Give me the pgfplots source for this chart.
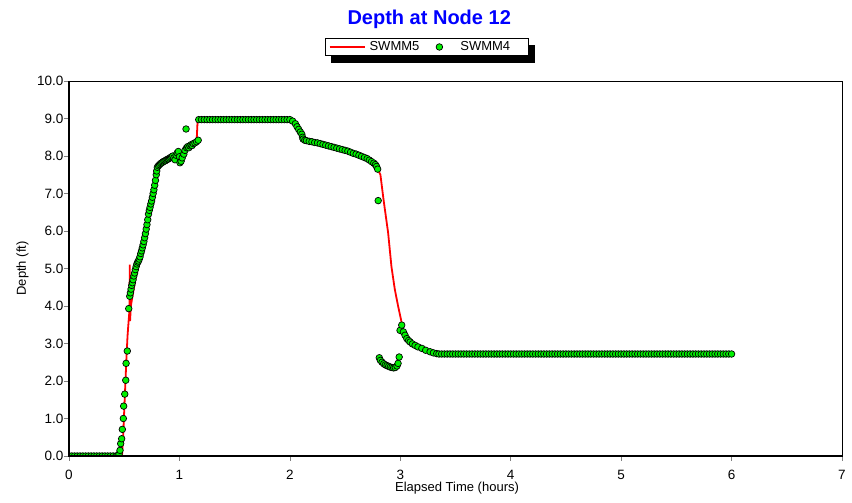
\documentclass[border=0pt]{standalone}
\usepackage{pgfplots}
\pgfplotsset{compat=1.18}
\usepackage{fontspec}
\setmainfont{Liberation Sans}
\pgfdeclarelayer{background}
\pgfsetlayers{background,main}
\definecolor{mkgreen}{RGB}{0,240,0}
\begin{document}
\begin{tikzpicture}
\path[use as bounding box] (-69pt,-47pt) rectangle (783pt,456pt);
\begin{axis}[
  name=ax,
  at={(0pt,0pt)}, anchor=south west,
  scale only axis,
  width=773pt, height=375pt,
  xmin=0, xmax=7, ymin=0, ymax=10,
  xtick={0,1,2,3,4,5,6,7},
  ytick={0,1,2,3,4,5,6,7,8,9,10},
  tick pos=left,
  tick align=outside,
  major tick length=5pt,
  tick style={gray, line width=0.6pt},
  axis line style={black, line width=0.9pt},
  /pgf/number format/assume math mode=true,
  yticklabel style={/pgf/number format/fixed, /pgf/number format/fixed zerofill, /pgf/number format/precision=1, xshift=3pt},
  tick label style={font=\fontsize{13.5}{15}\selectfont},
  xticklabel style={yshift=-6pt},
  xlabel={Elapsed Time (hours)},
  ylabel={Depth (ft)},
  label style={font=\fontsize{13}{15}\selectfont},
  xlabel style={at={(axis description cs:0.502,-0.096)}, anchor=base},
  ylabel style={at={(axis description cs:-0.060,0.5)}, anchor=center},
  every axis title shift=0pt,
  title={\textbf{Depth at Node 12}},
  title style={at={(axis description cs:0.466,1.151)}, anchor=base, yshift=0pt, font=\fontsize{20}{22}\selectfont, text=blue},
  legend columns=2,
  legend style={at={(axis description cs:0.463,1.0907)}, anchor=center,
    name=leg,
    draw=black, line width=0.8pt, fill=white,
    font=\fontsize{13}{15}\selectfont, inner sep=1.5pt,
    /tikz/every even column/.append style={column sep=8pt}},
  clip marker paths=true,
]
\addplot[red, line width=1.8pt, mark=none,
  legend image code/.code={\path[draw=none] (-3pt,0pt) -- (38pt,0pt); \draw[red, line width=1.8pt] (0pt,0pt) -- (35pt,0pt);}]
coordinates {
(0,0) (0.48,0) (0.49,0.5) (0.50,1.2) (0.51,1.9) (0.52,2.6) (0.53,3.2) (0.54,3.6)
(0.548,3.9) (0.550,5.1) (0.553,3.6) (0.56,4.0) (0.58,4.35) (0.60,4.7) (0.62,4.95)
(0.65,5.35) (0.68,5.7) (0.70,6.0) (0.72,6.3) (0.75,6.8) (0.78,7.25) (0.80,7.5)
(0.82,7.7) (0.85,7.78) (0.90,7.88) (0.95,7.98) (1.00,8.05) (1.05,8.15) (1.10,8.30)
(1.157,8.47) (1.165,8.97) (2.0,8.97) (2.02,8.93) (2.05,8.85) (2.08,8.72) (2.10,8.62)
(2.12,8.47) (2.15,8.42) (2.2,8.38) (2.3,8.31) (2.4,8.23) (2.5,8.15) (2.6,8.06)
(2.65,8.00) (2.7,7.92) (2.75,7.83) (2.78,7.75) (2.80,7.62) (2.82,7.5) (2.85,6.8)
(2.89,5.95) (2.92,5.05) (2.95,4.45) (2.98,4.0) (3.013,3.55) (3.03,3.30) (3.06,3.13)
(3.09,3.04) (3.13,2.95) (3.2,2.86) (3.27,2.78) (3.33,2.73) (3.4,2.72) (6.0,2.72)
};
\addlegendentry{SWMM5}
\addplot[only marks, mark=*, mark size=3.3pt,
  mark options={fill=mkgreen, draw=black, line width=0.7pt},
  legend image code/.code={\path[draw=none] (0pt,0pt) -- (29pt,0pt); \path[draw=none] plot[mark=*, mark size=3.3pt, mark options={fill=mkgreen, draw=black, line width=0.7pt}] coordinates {(10pt,0pt)};}]
coordinates {
(0,0) (0.025,0) (0.05,0) (0.075,0) (0.1,0) (0.125,0) (0.15,0) (0.175,0) (0.2,0)
(0.225,0) (0.25,0) (0.275,0) (0.3,0) (0.325,0) (0.35,0) (0.375,0) (0.4,0) (0.425,0)
(0.44,0) (0.453,0.05) (0.462,0.15) (0.468,0.33) (0.477,0.46) (0.483,0.71) (0.492,1.0)
(0.495,1.33) (0.505,1.65) (0.514,2.02) (0.517,2.47) (0.528,2.80) (0.541,3.93)
(0.550,4.26) (0.556,4.35) (0.562,4.45) (0.568,4.55) (0.574,4.62) (0.58,4.70)
(0.587,4.80) (0.594,4.88) (0.601,4.97) (0.608,5.05) (0.615,5.12) (0.622,5.17)
(0.629,5.20) (0.636,5.25) (0.643,5.31) (0.65,5.40) (0.657,5.47) (0.664,5.55)
(0.671,5.63) (0.678,5.72) (0.685,5.82) (0.692,5.93) (0.699,6.05) (0.706,6.17)
(0.713,6.30) (0.72,6.45) (0.727,6.55) (0.734,6.63) (0.741,6.72) (0.748,6.80)
(0.755,6.90) (0.762,7.00) (0.769,7.10) (0.776,7.22) (0.783,7.35) (0.79,7.50)
(0.794,7.60) (0.80,7.70) (0.81,7.74) (0.82,7.77) (0.83,7.80) (0.84,7.82) (0.85,7.84)
(0.86,7.86) (0.87,7.87) (0.88,7.89) (0.89,7.91) (0.90,7.92) (0.91,7.94) (0.92,7.96)
(0.93,7.98) (0.94,8.0) (0.95,7.95) (0.96,7.90) (0.97,8.02) (0.98,8.08) (0.99,8.12)
(1.0,7.98) (1.005,7.82) (1.015,7.86) (1.025,7.95) (1.04,8.05) (1.05,8.15) (1.06,8.72)
(1.065,8.22) (1.075,8.25) (1.085,8.22) (1.095,8.27) (1.105,8.30) (1.115,8.28)
(1.125,8.33) (1.14,8.35) (1.155,8.38) (1.17,8.42)
(1.175,8.97) (1.2,8.97) (1.225,8.97) (1.25,8.97) (1.275,8.97) (1.3,8.97) (1.325,8.97)
(1.35,8.97) (1.375,8.97) (1.4,8.97) (1.425,8.97) (1.45,8.97) (1.475,8.97) (1.5,8.97)
(1.525,8.97) (1.55,8.97) (1.575,8.97) (1.6,8.97) (1.625,8.97) (1.65,8.97) (1.675,8.97)
(1.7,8.97) (1.725,8.97) (1.75,8.97) (1.775,8.97) (1.8,8.97) (1.825,8.97) (1.85,8.97)
(1.875,8.97) (1.9,8.97) (1.925,8.97) (1.95,8.97) (1.975,8.97) (2.0,8.97)
(2.025,8.93) (2.05,8.86) (2.065,8.78) (2.08,8.71) (2.095,8.64) (2.108,8.58)
(2.115,8.50) (2.12,8.45) (2.135,8.42) (2.15,8.41) (2.175,8.39) (2.2,8.38)
(2.225,8.36) (2.25,8.35) (2.275,8.33) (2.3,8.31) (2.325,8.29) (2.35,8.27)
(2.375,8.25) (2.4,8.23) (2.425,8.21) (2.45,8.19) (2.475,8.17) (2.5,8.15)
(2.525,8.13) (2.55,8.10) (2.575,8.07) (2.6,8.05) (2.625,8.02) (2.65,7.99)
(2.675,7.96) (2.7,7.93) (2.72,7.89) (2.74,7.85) (2.76,7.81) (2.775,7.77)
(2.785,7.72) (2.795,7.65) (2.80,6.81)
(2.81,2.62) (2.82,2.55) (2.835,2.50) (2.85,2.46) (2.865,2.43) (2.88,2.41)
(2.895,2.39) (2.91,2.37) (2.925,2.36) (2.94,2.35) (2.955,2.36) (2.97,2.40)
(2.98,2.47) (2.99,2.64)
(2.998,3.35) (3.013,3.49) (3.028,3.31) (3.043,3.22) (3.059,3.13) (3.075,3.08)
(3.089,3.04) (3.11,2.99) (3.134,2.95) (3.16,2.91) (3.195,2.87) (3.23,2.82)
(3.27,2.78) (3.30,2.75) (3.33,2.73)
(3.35,2.72) (3.375,2.72) (3.4,2.72) (3.425,2.72) (3.45,2.72) (3.475,2.72) (3.5,2.72)
(3.525,2.72) (3.55,2.72) (3.575,2.72) (3.6,2.72) (3.625,2.72) (3.65,2.72) (3.675,2.72)
(3.7,2.72) (3.725,2.72) (3.75,2.72) (3.775,2.72) (3.8,2.72) (3.825,2.72) (3.85,2.72)
(3.875,2.72) (3.9,2.72) (3.925,2.72) (3.95,2.72) (3.975,2.72) (4.0,2.72)
(4.025,2.72) (4.05,2.72) (4.075,2.72) (4.1,2.72) (4.125,2.72) (4.15,2.72) (4.175,2.72)
(4.2,2.72) (4.225,2.72) (4.25,2.72) (4.275,2.72) (4.3,2.72) (4.325,2.72) (4.35,2.72)
(4.375,2.72) (4.4,2.72) (4.425,2.72) (4.45,2.72) (4.475,2.72) (4.5,2.72)
(4.525,2.72) (4.55,2.72) (4.575,2.72) (4.6,2.72) (4.625,2.72) (4.65,2.72) (4.675,2.72)
(4.7,2.72) (4.725,2.72) (4.75,2.72) (4.775,2.72) (4.8,2.72) (4.825,2.72) (4.85,2.72)
(4.875,2.72) (4.9,2.72) (4.925,2.72) (4.95,2.72) (4.975,2.72) (5.0,2.72)
(5.025,2.72) (5.05,2.72) (5.075,2.72) (5.1,2.72) (5.125,2.72) (5.15,2.72) (5.175,2.72)
(5.2,2.72) (5.225,2.72) (5.25,2.72) (5.275,2.72) (5.3,2.72) (5.325,2.72) (5.35,2.72)
(5.375,2.72) (5.4,2.72) (5.425,2.72) (5.45,2.72) (5.475,2.72) (5.5,2.72)
(5.525,2.72) (5.55,2.72) (5.575,2.72) (5.6,2.72) (5.625,2.72) (5.65,2.72) (5.675,2.72)
(5.7,2.72) (5.725,2.72) (5.75,2.72) (5.775,2.72) (5.8,2.72) (5.825,2.72) (5.85,2.72)
(5.875,2.72) (5.9,2.72) (5.925,2.72) (5.95,2.72) (5.975,2.72) (6.0,2.72)
};
\addlegendentry{SWMM4\kern15pt}
\end{axis}
\draw[black, line width=2.4pt] (ax.north west) -- (ax.south west) -- (ax.south east);
\begin{pgfonlayer}{background}
\fill[black] ([xshift=6pt,yshift=-7pt]leg.south west) rectangle ([xshift=6pt,yshift=-7pt]leg.north east);
\end{pgfonlayer}
\end{tikzpicture}
\end{document}
